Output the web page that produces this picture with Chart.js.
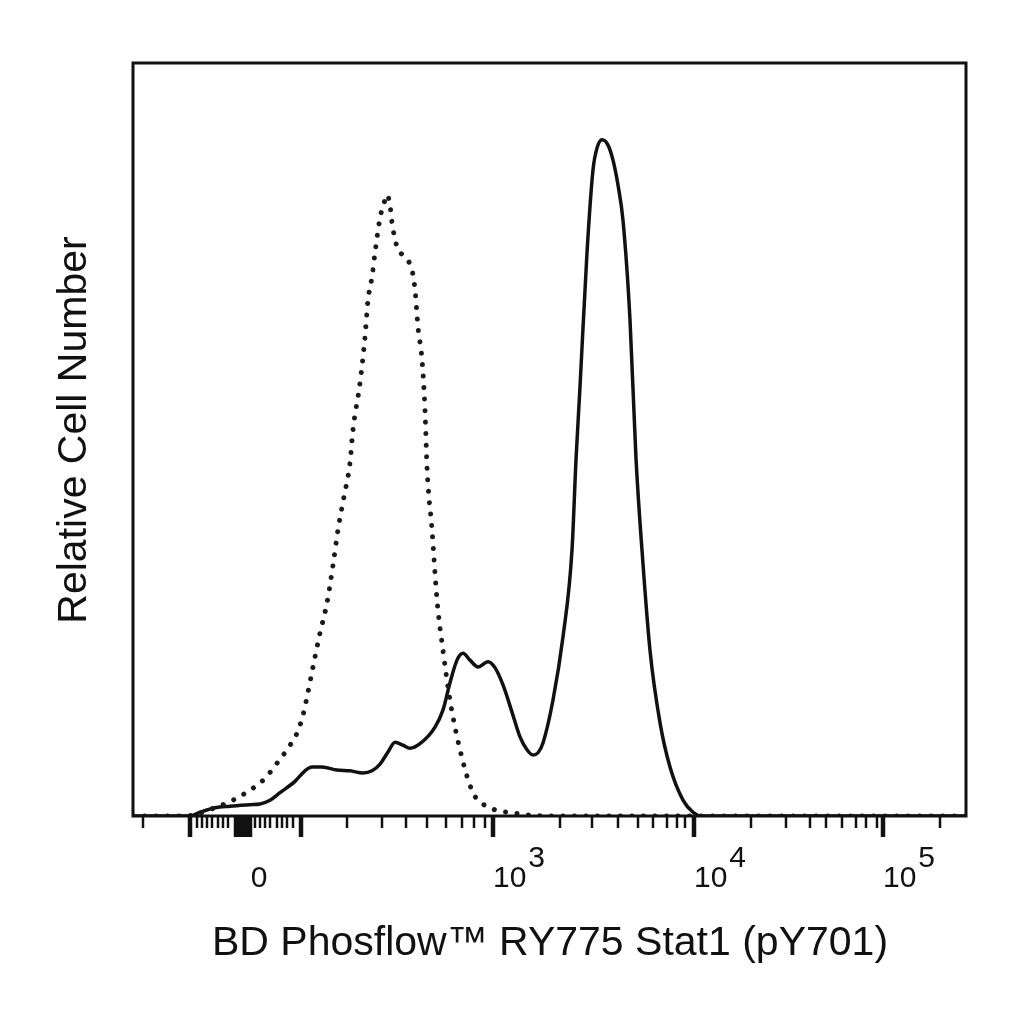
<!DOCTYPE html>
<html>
<head>
<meta charset="utf-8">
<title>Stat1 (pY701) histogram</title>
<script src="https://cdn.jsdelivr.net/npm/chart.js@4"></script>
<style>
  html, body { margin: 0; padding: 0; background: #fff; }
  canvas { display: block; }
</style>
</head>
<body>
<canvas id="myChart" width="1024" height="1024"></canvas>
<script>
// display channel (0 = left edge of plot) and relative cell number (% of plot height)
const stimChannel = [0, 57, 67, 82, 97, 117, 127, 137, 147, 162, 172, 179, 189, 204, 217, 230, 239, 247, 255, 262,
    270, 277, 287, 302, 310, 317, 324, 330, 337, 345, 355, 362, 370, 379, 387, 394, 400, 405, 410, 420,
    430, 439, 443, 447, 454, 460, 464, 469, 475, 480, 485, 490, 497, 503, 509, 517, 527, 537, 550, 560, 569, 833];
const stimCount = [0, 0, 0.5, 1.1, 1.3, 1.5, 1.6, 2.1, 3.1, 4.6, 6.0, 6.5, 6.5, 6.1, 6.0, 5.7, 6.0, 6.9, 8.5, 9.8,
    9.4, 9.0, 9.6, 11.8, 14.1, 17.7, 20.7, 21.6, 20.7, 19.8, 20.5, 19.7, 17.4, 13.8, 10.5, 8.8, 8.1, 8.4, 9.7, 15.4,
    23.8, 35.3, 47.3, 57.0, 74.8, 85.8, 88.7, 89.8, 89.1, 87.1, 83.8, 79.1, 65.9, 47.5, 35.3, 22.0, 12.4, 6.5, 2.1, 0.5, 0, 0];

const unstimChannel = [0, 52, 67, 82, 100, 120, 132, 144, 155, 164, 170, 174, 180, 187, 194, 200, 205, 211, 217, 220,
    227, 232, 235, 239, 242, 247, 252, 254, 257, 259, 264, 272, 279, 282, 285, 289, 292, 294, 299, 304,
    310, 317, 327, 340, 357, 380, 414, 833];
const unstimCount = [0, 0, 0.4, 1.1, 2.1, 3.7, 5.0, 7.0, 9.0, 11.0, 13.4, 15.8, 19.8, 24.3, 28.3, 33.3, 38.0, 42.4, 46.9, 51.3,
    57.5, 63.6, 68.5, 71.6, 74.8, 79.4, 81.8, 82.5, 81.1, 78.8, 75.6, 74.2, 72.5, 69.9, 64.9, 60.6, 53.9, 46.3, 38.0, 28.7,
    22.0, 15.4, 8.8, 3.1, 1.1, 0.4, 0, 0];

// biexponential axis ticks, in display channels
const majorTicks = [57, 103, 106, 109, 112, 115, 117, 168, 360, 561, 750];
const minorTicks = [10, 64, 69, 74, 79, 85, 90, 95, 122, 127, 132, 137, 144, 149, 154, 160,
    214, 249, 273, 294, 313, 329, 341, 352, 427, 459, 485, 505, 520, 534, 544, 552,
    618, 653, 677, 693, 709, 723, 733, 744, 807];
const tickLabels = ["0", "3", "4", "5"];
const tickLabelChannels = [110, 360, 561, 750];

const FONT = '"Liberation Sans", Arial, Helvetica, sans-serif';

const toPoints = (xs, ys) => xs.map((x, i) => ({ x: x, y: ys[i] }));

const frameAndAxis = {
    id: "frameAndAxis",
    afterDatasetsDraw(chart) {
        const ctx = chart.ctx;
        const area = chart.chartArea;
        const xs = chart.scales.x;

        ctx.save();
        ctx.strokeStyle = "#111";
        ctx.lineWidth = 3;
        ctx.strokeRect(area.left, area.top, area.right - area.left, area.bottom - area.top);

        ctx.lineWidth = 2.5;
        minorTicks.forEach(t => {
            const px = Math.round(xs.getPixelForValue(t));
            ctx.beginPath();
            ctx.moveTo(px, area.bottom);
            ctx.lineTo(px, area.bottom + 12);
            ctx.stroke();
        });
        ctx.lineWidth = 4.5;
        majorTicks.forEach(t => {
            const px = Math.round(xs.getPixelForValue(t));
            ctx.beginPath();
            ctx.moveTo(px, area.bottom);
            ctx.lineTo(px, area.bottom + 21);
            ctx.stroke();
        });

        ctx.fillStyle = "#111";
        ctx.font = "30px " + FONT;
        ctx.textBaseline = "alphabetic";
        tickLabels.forEach((lab, i) => {
            const px = xs.getPixelForValue(tickLabelChannels[i]);
            if (lab === "0") {
                ctx.textAlign = "center";
                ctx.fillText("0", px + 16, 887);
            } else {
                ctx.textAlign = "left";
                ctx.fillText("10", px, 887);
                const w = ctx.measureText("10").width;
                ctx.fillText(lab, px + 2 + w, 867);
            }
        });

        ctx.textAlign = "center";
        ctx.font = "41px " + FONT;
        ctx.fillText("BD Phosflow\u2122 RY775 Stat1 (pY701)", 550, 955);

        ctx.translate(86, 430);
        ctx.rotate(-Math.PI / 2);
        ctx.fillText("Relative Cell Number", 0, 0);
        ctx.restore();
    }
};

const ctx = document.getElementById("myChart").getContext("2d");

const config = {
    type: "line",
    data: {
        datasets: [{
            label: "Unstimulated",
            data: toPoints(unstimChannel, unstimCount),
            borderColor: "#1a1a1a",
            borderWidth: 5,
            borderDash: [0.01, 11.5],
            borderCapStyle: "round",
            pointRadius: 0,
            cubicInterpolationMode: "monotone",
            fill: false,
        }, {
            label: "Stimulated",
            data: toPoints(stimChannel, stimCount),
            borderColor: "#111",
            borderWidth: 3.5,
            pointRadius: 0,
            cubicInterpolationMode: "monotone",
            fill: false,
        }, ],
    },
    options: {
        responsive: false,
        animation: false,
        devicePixelRatio: 1,
        layout: {
            padding: { left: 133, right: 58, top: 63, bottom: 208 },
        },
        plugins: {
            legend: { display: false },
            tooltip: { enabled: false },
        },
        scales: {
            x: { type: "linear", min: 0, max: 833, display: false },
            y: { type: "linear", min: 0, max: 100, display: false },
        },
    },
    plugins: [frameAndAxis],
};

const myChart = new Chart(ctx, config);
</script>
</body>
</html>
